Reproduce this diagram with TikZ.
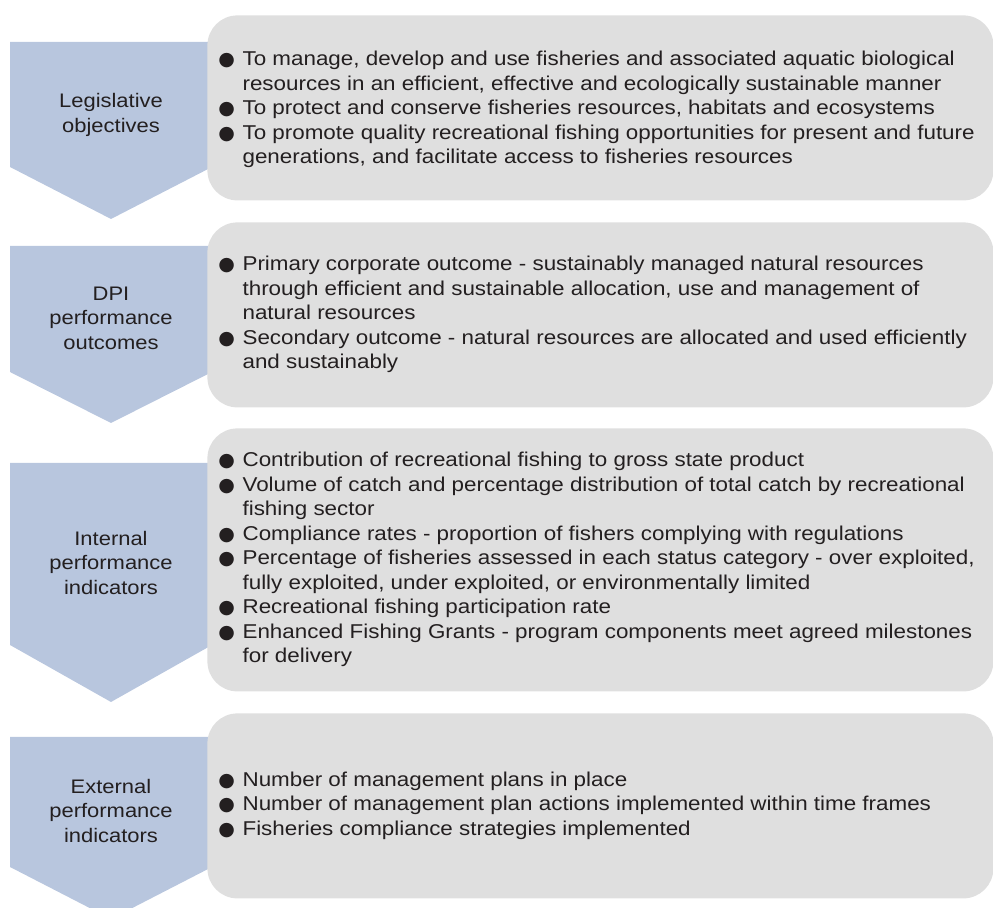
\documentclass[tikz,border=0pt]{standalone}
\usepackage{fontspec}
\setmainfont{Liberation Sans}[FakeStretch=1.12]
\newfontfamily\dotfont{DejaVu Sans}
\usepackage{xcolor}
\usetikzlibrary{positioning}

\definecolor{chevblue}{RGB}{184,198,222}
\definecolor{boxgrey}{RGB}{223,223,223}
\definecolor{inkgrey}{RGB}{35,31,32}
\newcommand{\bul}{{\dotfont\fontsize{9.5}{9.5}\selectfont ●}}

\begin{document}
\begin{tikzpicture}[
  x=0.5pt, y=-0.5pt,
  chevron/.style={fill=chevblue},
  infobox/.style={rectangle, fill=boxgrey, rounded corners=15pt,
    anchor=north west, minimum width=393pt, inner sep=0pt},
  heading/.style={align=center, text=inkgrey, font=\fontsize{9.8}{12.25}\selectfont},
  items/.style={anchor=west, inner sep=0pt, text=inkgrey,
    font=\fontsize{10}{12.25}\selectfont},
]
  \useasboundingbox (0,0) rectangle (993,908);
  \clip (0,0) rectangle (993,908);

  % Chevrons on the left
  \fill[chevron] (10,42) -- (212,42) -- (212,167) -- (111,219) -- (10,167) -- cycle;
  \fill[chevron] (10,246) -- (212,246) -- (212,372) -- (111,423) -- (10,372) -- cycle;
  \fill[chevron] (10,463) -- (212,463) -- (212,645) -- (111,702) -- (10,645) -- cycle;
  \fill[chevron] (10,737) -- (212,737) -- (212,867) -- (111,919) -- (10,867) -- cycle;

  \node[heading] (h1) at (111,115) {Legislative\\objectives};
  \node[heading] (h2) at (111,318) {DPI\\performance\\outcomes};
  \node[heading] (h3) at (111,563) {Internal\\performance\\indicators};
  \node[heading] (h4) at (111,811) {External\\performance\\indicators};

  % Grey boxes
  \node[infobox, minimum height=92.5pt] (box1) at (207,15) {};
  \node[infobox, minimum height=92.5pt] (box2) at (207,222) {};
  \node[infobox, minimum height=131.5pt] (box3) at (207,428) {};
  \node[infobox, minimum height=92.5pt] (box4) at (207,713) {};

  % Bullet lists
  \node[items] (list1) at ([xshift=5.5pt,yshift=-1pt]box1.west) {%
    \begin{tabular}{@{}l@{\hspace{3.8pt}}l@{}}
      \bul & To manage, develop and use fisheries and associated aquatic biological\\
           & resources in an efficient, effective and ecologically sustainable manner\\
      \bul & To protect and conserve fisheries resources, habitats and ecosystems\\
      \bul & To promote quality recreational fishing opportunities for present and future\\
           & generations, and facilitate access to fisheries resources
    \end{tabular}};
  \node[items] (list2) at ([xshift=5.5pt]box2.west) {%
    \begin{tabular}{@{}l@{\hspace{3.8pt}}l@{}}
      \bul & Primary corporate outcome - sustainably managed natural resources\\
           & through efficient and sustainable allocation, use and management of\\
           & natural resources\\
      \bul & Secondary outcome - natural resources are allocated and used efficiently\\
           & and sustainably
    \end{tabular}};
  \node[items] (list3) at ([xshift=5.5pt]box3.west) {%
    \begin{tabular}{@{}l@{\hspace{3.8pt}}l@{}}
      \bul & Contribution of recreational fishing to gross state product\\
      \bul & Volume of catch and percentage distribution of total catch by recreational\\
           & fishing sector\\
      \bul & Compliance rates - proportion of fishers complying with regulations\\
      \bul & Percentage of fisheries assessed in each status category - over exploited,\\
           & fully exploited, under exploited, or environmentally limited\\
      \bul & Recreational fishing participation rate\\
      \bul & Enhanced Fishing Grants - program components meet agreed milestones\\
           & for delivery
    \end{tabular}};
  \node[items] (list4) at ([xshift=5.5pt]box4.west) {%
    \begin{tabular}{@{}l@{\hspace{3.8pt}}l@{}}
      \bul & Number of management plans in place\\
      \bul & Number of management plan actions implemented within time frames\\
      \bul & Fisheries compliance strategies implemented
    \end{tabular}};
\end{tikzpicture}
\end{document}
